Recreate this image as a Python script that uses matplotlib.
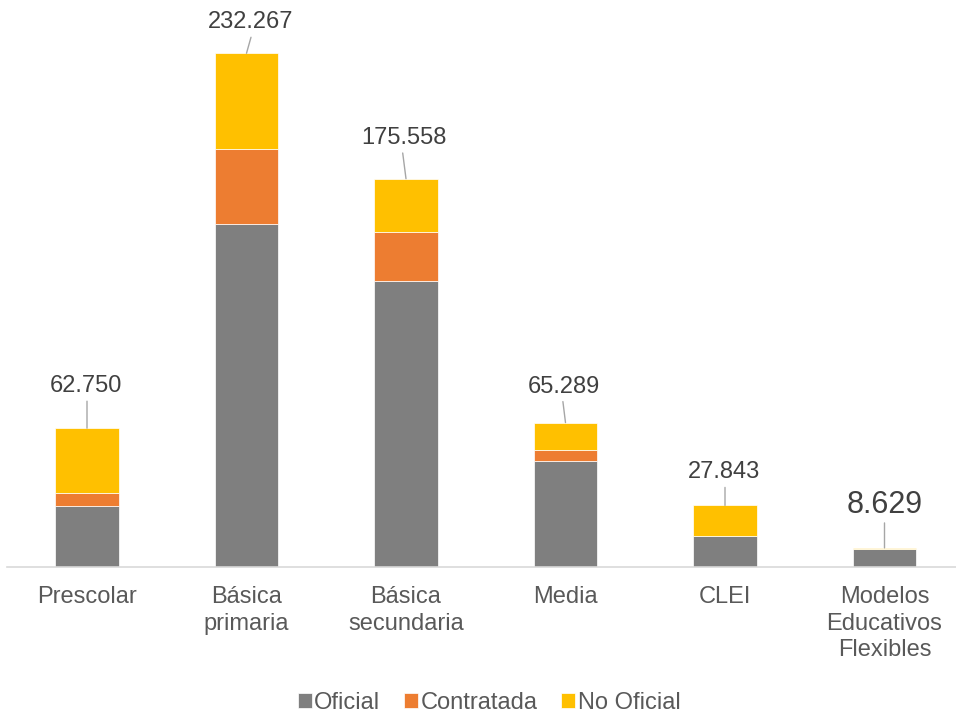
import matplotlib
matplotlib.use("Agg")
import matplotlib.pyplot as plt
import numpy as np

plt.rcParams['font.family'] = ['Liberation Sans', 'DejaVu Sans']

categories = ["Prescolar", "Básica\nprimaria", "Básica\nsecundaria", "Media", "CLEI",
              "Modelos\nEducativos\nFlexibles"]
oficial = [27700, 155300, 129100, 47900, 13900, 8000]
contratada = [5700, 33700, 22200, 5100, 0, 0]
no_oficial = [29350, 43267, 24258, 12289, 13943, 629]
series_names = ["Oficial", "Contratada", "No Oficial"]
colors = ["#7f7f7f", "#ed7d31", "#ffc000"]

totals = [a + b + c for a, b, c in zip(oficial, contratada, no_oficial)]

def fmt(v):
    return f"{v:,}".replace(",", ".")

W, H = 956, 715
fig = plt.figure(figsize=(W / 100, H / 100), dpi=100)
ax = fig.add_axes([7.25 / W, (H - 567) / H, 957 / W, 567 / H])

x = np.arange(len(categories))
bw = 0.40
b1 = ax.bar(x, oficial, bw, color=colors[0], edgecolor="white", linewidth=0.5, label=series_names[0])
b2 = ax.bar(x, contratada, bw, bottom=oficial, color=colors[1], edgecolor="white", linewidth=0.5,
            label=series_names[1])
bottom2 = [a + b for a, b in zip(oficial, contratada)]
b3 = ax.bar(x, no_oficial, bw, bottom=bottom2, color=colors[2], edgecolor="white", linewidth=0.5,
            label=series_names[2])

ax.set_xlim(-0.5, 5.5)
ax.set_ylim(0, 256350)

# label styles: (text dx px, text baseline dy px, line top dx px, line length px, fontsize)
label_style = [
    (-1, 36, 0, 27, 17),
    (4.3, 25, 4.5, 16, 17),
    (-2, 35, -3.3, 25.7, 17),
    (-2, 30, -2.6, 21, 17),
    (-0.5, 27, 0, 18, 17),
    (0, 35, 0, 25, 22),
]
for i, tot in enumerate(totals):
    tdx, tdy, ldx, llen, fs = label_style[i]
    ax.annotate("", xy=(x[i], tot), xytext=(ldx, llen), textcoords="offset pixels",
                arrowprops=dict(arrowstyle="-", color="#a6a6a6", lw=1.0, shrinkA=0, shrinkB=0))
    ax.annotate(fmt(tot), xy=(x[i], tot), xytext=(tdx, tdy), textcoords="offset pixels",
                ha="center", va="baseline", fontsize=fs, color="#404040")

for s in ["top", "right", "left"]:
    ax.spines[s].set_visible(False)
ax.spines["bottom"].set_color("#d9d9d9")
ax.spines["bottom"].set_linewidth(1.2)
ax.set_yticks([])
ax.set_xticks(x)
ax.set_xticklabels(categories, fontsize=17, color="#595959", linespacing=1.25)
ax.tick_params(axis="x", length=0, pad=14)
ax.set_facecolor("none")

leg = fig.legend(handles=[b1, b2, b3], labels=series_names, loc="center",
                 bbox_to_anchor=(489 / W, 1 - 703 / H), ncol=3, frameon=False, fontsize=17,
                 handlelength=0.6, handleheight=0.6, handletextpad=0.1, columnspacing=1.0,
                 labelcolor="#595959")

fig.savefig("out.png", dpi=100, facecolor="white")
